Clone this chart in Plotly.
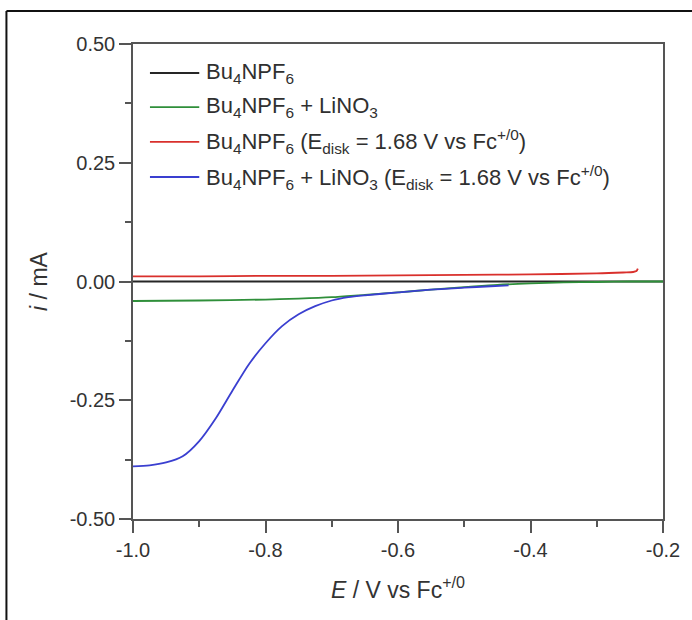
import plotly.graph_objects as go

# Linear sweep data: potential E (V vs Fc+/0) and current i (mA)
names = [
    "Bu<sub>4</sub>NPF<sub>6</sub>",
    "Bu<sub>4</sub>NPF<sub>6</sub> + LiNO<sub>3</sub>",
    "Bu<sub>4</sub>NPF<sub>6</sub> (E<sub>disk</sub> = 1.68 V vs Fc<sup>+/0</sup>)",
    "Bu<sub>4</sub>NPF<sub>6</sub> + LiNO<sub>3</sub> (E<sub>disk</sub> = 1.68 V vs Fc<sup>+/0</sup>)",
]
colors = ["#262626", "#2f8f3a", "#d9302c", "#3a3fd0"]

E_black = [-1.0, -0.6, -0.2]
i_black = [0.0, 0.0, 0.0]

E_green = [-1.0, -0.9, -0.8, -0.75, -0.7, -0.65, -0.6, -0.55, -0.5, -0.45,
           -0.4, -0.35, -0.3, -0.25, -0.2]
i_green = [-0.041, -0.040, -0.038, -0.036, -0.033, -0.028, -0.023, -0.017,
           -0.012, -0.007, -0.004, -0.002, -0.001, 0.0, 0.0]

E_red = [-1.0, -0.9, -0.8, -0.7, -0.6, -0.5, -0.4, -0.3, -0.26, -0.245,
         -0.24, -0.238]
i_red = [0.011, 0.011, 0.012, 0.012, 0.013, 0.014, 0.015, 0.017, 0.019,
         0.020, 0.022, 0.027]

E_blue = [-1.0, -0.975, -0.95, -0.925, -0.9, -0.875, -0.85, -0.825, -0.8,
          -0.775, -0.75, -0.725, -0.7, -0.675, -0.65, -0.6, -0.55, -0.5,
          -0.46, -0.433]
i_blue = [-0.389, -0.387, -0.381, -0.368, -0.336, -0.288, -0.230, -0.174,
          -0.130, -0.094, -0.069, -0.052, -0.040, -0.033, -0.029, -0.023,
          -0.017, -0.013, -0.010, -0.008]

x_ticks = [-1.0, -0.8, -0.6, -0.4, -0.2]
x_ticklabels = ["-1.0", "-0.8", "-0.6", "-0.4", "-0.2"]
y_ticks = [0.5, 0.25, 0.0, -0.25, -0.5]
y_ticklabels = ["0.50", "0.25", "0.00", "-0.25", "-0.50"]

FONT = "Liberation Sans, Arial, sans-serif"

series = [(E_black, i_black), (E_green, i_green), (E_red, i_red), (E_blue, i_blue)]

fig = go.Figure()
for (xs, ys), name, col in zip(series, names, colors):
    fig.add_trace(go.Scatter(
        x=xs, y=ys, mode="lines", name=name,
        line=dict(color=col, width=1.8, shape="spline", smoothing=0.8),
        showlegend=False,
    ))

# Hand-built legend in the upper-left corner of the plot area
leg_y = [0.939, 0.867, 0.794, 0.72]
shapes = []
annotations = []
for name, col, yy in zip(names, colors, leg_y):
    shapes.append(dict(type="line", xref="paper", yref="paper",
                       x0=0.032, x1=0.125, y0=yy, y1=yy,
                       line=dict(color=col, width=1.8)))
    annotations.append(dict(xref="paper", yref="paper", x=0.134, y=yy,
                            xanchor="left", yanchor="middle", showarrow=False,
                            text=name, font=dict(size=22, color="#303030", family=FONT)))

# Outer frame around the figure (top and left edges)
shapes.append(dict(type="line", xref="paper", yref="paper",
                   x0=-0.2388, x1=1.06, y0=1.0695, y1=1.0695,
                   line=dict(color="#111111", width=2)))
shapes.append(dict(type="line", xref="paper", yref="paper",
                   x0=-0.2388, x1=-0.2388, y0=-0.23, y1=1.0695,
                   line=dict(color="#111111", width=2)))

axis_common = dict(
    showline=True, linecolor="#555555", linewidth=1.5, mirror=True,
    ticks="outside", ticklen=12, tickwidth=1.5, tickcolor="#555555",
    showgrid=False, zeroline=False,
    tickfont=dict(size=20, color="#333333", family=FONT),
)

fig.update_layout(
    width=692, height=620,
    margin=dict(l=133, r=23, t=44, b=101),
    paper_bgcolor="white", plot_bgcolor="white",
    font=dict(family=FONT, color="#333333"),
    shapes=shapes, annotations=annotations,
    xaxis=dict(
        range=[-1.0, -0.2], tickvals=x_ticks, ticktext=x_ticklabels,
        minor=dict(ticks="outside", ticklen=6, tickwidth=1.5, tickcolor="#555555", dtick=0.1),
        title=dict(text="<i>E</i> / V vs Fc<sup>+/0</sup>",
                   font=dict(size=23, color="#333333", family=FONT), standoff=22),
        **axis_common,
    ),
    yaxis=dict(
        range=[-0.5, 0.5], tickvals=y_ticks, ticktext=y_ticklabels,
        minor=dict(ticks="outside", ticklen=6, tickwidth=1.5, tickcolor="#555555", dtick=0.125),
        title=dict(text="<i>i</i> / mA",
                   font=dict(size=23, color="#333333", family=FONT), standoff=16),
        **axis_common,
    ),
)

fig.write_html("out.html")
